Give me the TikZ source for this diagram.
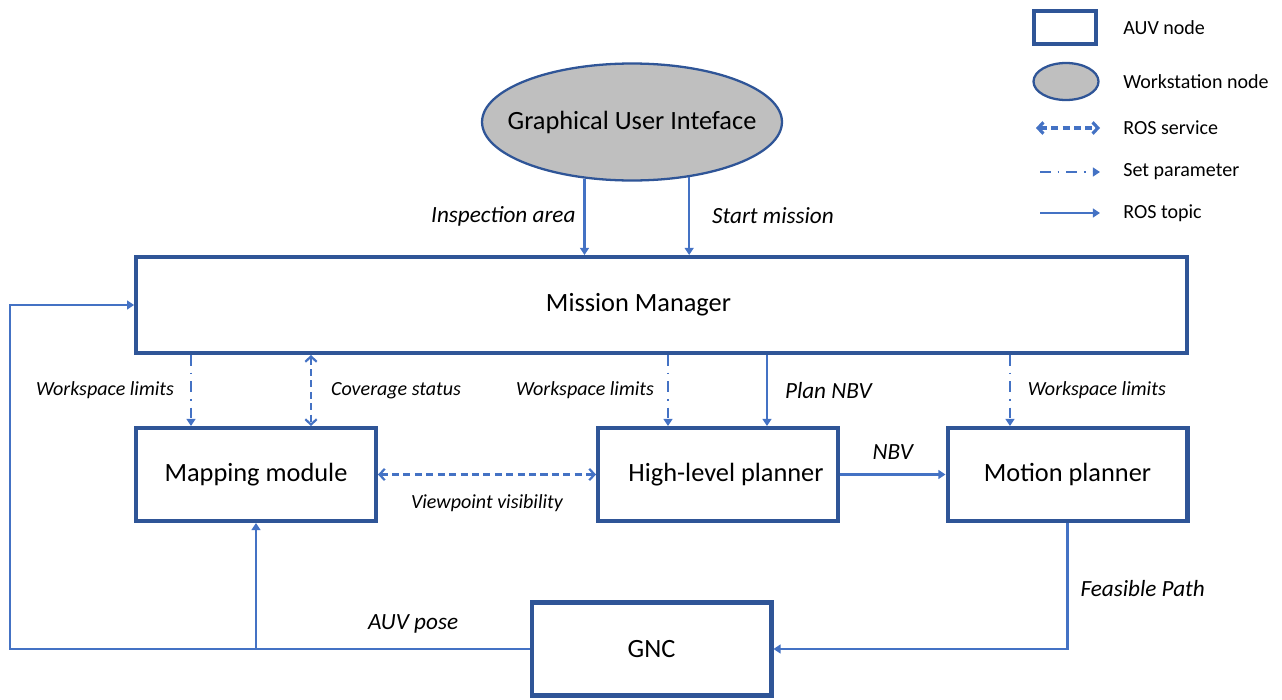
\documentclass[tikz,border=0pt]{standalone}
\usepackage{fontspec}
\setmainfont{Carlito}
\usetikzlibrary{positioning, arrows.meta, shapes.geometric}
\definecolor{boxb}{RGB}{47,85,151}
\definecolor{lineb}{RGB}{68,114,196}
\definecolor{guig}{RGB}{191,191,191}

\begin{document}
\begin{tikzpicture}[x=0.02cm, y=-0.02cm,
          auv/.style={draw=boxb, line width=2.3pt, minimum width=4.8cm,
            minimum height=1.86cm, inner sep=0pt, font=\fontsize{15}{18}\selectfont},
          ws/.style={ellipse, draw=boxb, line width=1.3pt, fill=guig, inner sep=0pt},
          topic/.style={-{Triangle[length=4pt, width=5pt]}, draw=lineb, line width=1.15pt},
          srv/.style={{Straight Barb[length=3pt, width=6.5pt]}-{Straight Barb[length=3pt, width=6.5pt]},
            draw=lineb, line width=1.25pt, dash pattern=on 4pt off 2.5pt},
          par/.style={-{Triangle[length=4pt, width=5pt]}, draw=lineb, line width=1.1pt,
            dash pattern=on 6pt off 4pt on 1pt off 4pt},
          lbl/.style={inner sep=0pt, font=\fontsize{11.4}{13}\selectfont\itshape},
          biglbl/.style={inner sep=0pt, font=\fontsize{13.2}{15}\selectfont\itshape},
          key/.style={inner sep=0pt, anchor=west, font=\fontsize{11.4}{13}\selectfont}]
        \useasboundingbox (0,0) rectangle (1282,700);

        % nodes
        \node[ws, minimum width=6.0cm, minimum height=2.34cm,
          label={[font=\fontsize{15}{18}\selectfont]center:Graphical User Inteface}] (gui) at (632,122) {};
        \node[auv, minimum width=21.02cm, minimum height=1.92cm] (mm) at (661.5,305)
          {\hspace*{-0.92cm}Mission Manager};
        \node[auv] (map) at (256,474.5) {Mapping module};
        \node[auv] (hlp) at (718,474.5) {High-level planner\hspace*{-0.32cm}};
        \node[auv] (mp) at (1067.5,474.5) {Motion planner};
        \node[auv] (gnc) at (651.5,649) {GNC};

        % where the vertical links run
        \coordinate (insp) at (586,0);
        \coordinate (start) at (689,0);
        \coordinate (wl1) at (191,0);
        \coordinate (cov) at (311,0);
        \coordinate (wl2) at (668,0);
        \coordinate (plan) at (767,0);
        \coordinate (wl3) at (1010,0);
        \coordinate (loop) at (10,0);

        % links
        \draw [topic] (gui.230.7) -- (gui.230.7 |- mm.north)
          node[biglbl, midway, left=0.16cm] {Inspection area};
        \draw [topic] (gui.316.2) -- (gui.316.2 |- mm.north)
          node[biglbl, midway, right=0.44cm] {Start mission};
        \draw [par] (wl1 |- mm.south) -- (wl1 |- map.north)
          node[lbl, midway, left=0.32cm] {Workspace limits};
        \draw [srv] (cov |- mm.south) -- (cov |- map.north)
          node[lbl, midway, right=0.38cm] {Coverage status};
        \draw [par] (wl2 |- mm.south) -- (wl2 |- hlp.north)
          node[lbl, midway, left=0.26cm] {Workspace limits};
        \draw [topic] (plan |- mm.south) -- (plan |- hlp.north)
          node[biglbl, midway, right=0.34cm] {Plan NBV};
        \draw [par] (wl3 |- mm.south) -- (wl3 |- mp.north)
          node[lbl, midway, right=0.34cm] {Workspace limits};
        \draw [srv] (map.east) -- (hlp.west)
          node[lbl, midway, below=0.38cm] {Viewpoint visibility};
        \draw [topic] (hlp.east) -- (mp.west)
          node[biglbl, midway, above=0.28cm] {NBV};
        \draw [topic] (mp.south) |- (gnc.east)
          node[biglbl, pos=0.26, right=0.24cm] {Feasible Path};
        \draw [topic] (gnc.west) -- (gnc.west -| loop)
          node[biglbl, pos=0.224, above=0.3cm] {AUV pose}
          -- (loop |- mm.west) -- (mm.west);
        \draw [topic] (gnc.west -| map.south) -- (map.south);

        % legend
        \node[auv, minimum width=1.24cm, minimum height=0.66cm] (kauv) at (1065,27.5) {};
        \node[ws, minimum width=1.3cm, minimum height=0.74cm] (kws) at (1066,81.5) {};
        \coordinate (ksa) at (1036,128);
        \coordinate (ksb) at (1100,128);
        \coordinate (kpa) at (1040,172);
        \coordinate (kpb) at (1100,172);
        \coordinate (kta) at (1040,213);
        \coordinate (ktb) at (1100,213);
        \draw [srv, line width=1.8pt] (ksa) -- (ksb);
        \draw [par, line width=1.5pt] (kpa) -- (kpb);
        \draw [topic, line width=1.5pt] (kta) -- (ktb);
        \node[key] at (1123,27.5) {AUV node};
        \node[key] at (1123,81.5) {Workstation node};
        \node[key] at (1123,128) {ROS service};
        \node[key] at (1123,172) {Set parameter};
        \node[key] at (1123,213) {ROS topic};
      \end{tikzpicture}
\end{document}
